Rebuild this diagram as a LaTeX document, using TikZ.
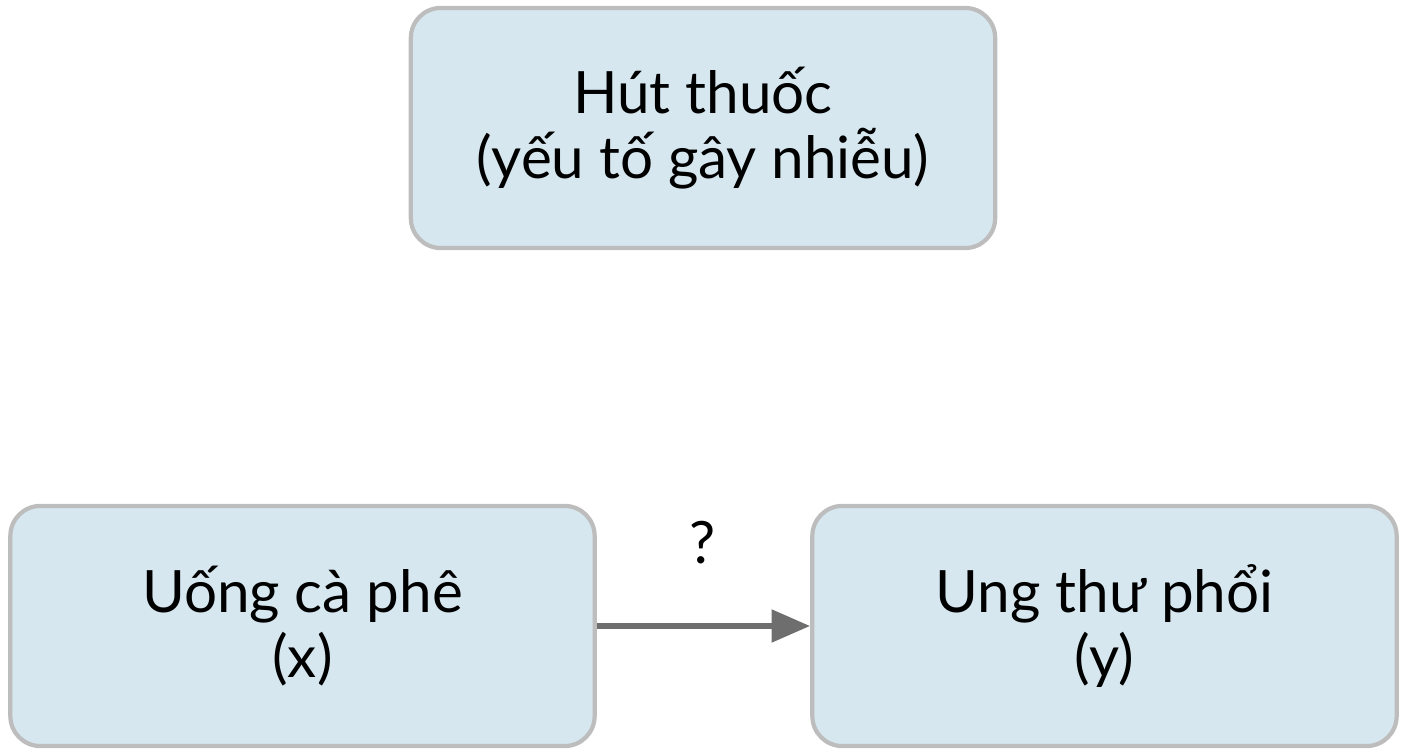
\documentclass[tikz,border=0pt]{standalone}
\usepackage{fontspec}
\setmainfont{Lato}
\usetikzlibrary{arrows.meta,positioning}
\definecolor{boxfill}{HTML}{D6E7EF}
\definecolor{boxline}{HTML}{BDBDBD}
\definecolor{arrowgray}{HTML}{6E6E6E}
\tikzset{%
        box/.style = { draw=boxline, line width=1.2pt, fill=boxfill, rounded corners=3mm,
                       minimum width=5.84cm, minimum height=2.4cm, align=center,
                       font=\fontsize{16.6}{18.7}\selectfont },
      link/.style = { draw=arrowgray, line width=1.8pt, -{Triangle[length=11pt,width=9pt]} },
     qlabel/.style = { font=\fontsize{16.6}{18.7}\selectfont }
}
\begin{document}
\begin{tikzpicture}[x=0.01cm,y=-0.01cm]
\useasboundingbox (0,0) rectangle (1408,752);
\node[box] (smoke) at (703,128) {Hút thuốc\\(yếu tố gây nhiễu)};
\node[box] (coffee) at (302.5,626) {Uống cà phê\\(x)};
\node[box] (cancer) at (1104.5,626) {Ung thư phổi\\(y)};
\draw[link] (coffee) -- (cancer);
\node[qlabel] (q) at (703,543) {?};
\end{tikzpicture}
\end{document}
